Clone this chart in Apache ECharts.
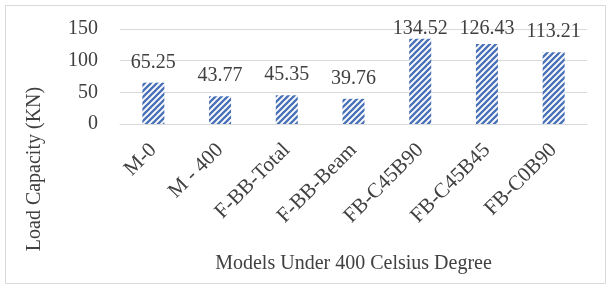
<head> </head>

<body style="margin: 0">
  <div id="main" style="width: 611px; height: 292px"></div>
  <script src="https://cdn.jsdelivr.net/npm/echarts@6.0.0/dist/echarts.min.js"></script>
  <script>
    // data
    var categories = ["M-0", "M - 400", "F-BB-Total", "F-BB-Beam", "FB-C45B90", "FB-C45B45", "FB-C0B90"];
    var loadValues = [65.25, 43.77, 45.35, 39.76, 134.52, 126.43, 113.21];
    var yTicks = [0, 50, 100, 150];

    var font = "Liberation Serif";

    // striped fill like the original
    var pat = document.createElement("canvas");
    pat.width = 6;
    pat.height = 6;
    var ctx = pat.getContext("2d");
    ctx.fillStyle = "#ffffff";
    ctx.fillRect(0, 0, 6, 6);
    ctx.strokeStyle = "#4a72b8";
    ctx.lineWidth = 2.3;
    ctx.beginPath();
    ctx.moveTo(-1, 7); ctx.lineTo(7, -1);
    ctx.moveTo(-1, 1); ctx.lineTo(1, -1);
    ctx.moveTo(5, 7); ctx.lineTo(7, 5);
    ctx.stroke();

    var myChart = echarts.init(document.getElementById("main"));
    var option = {
      backgroundColor: "#ffffff",
      animation: false,
      graphic: [
        {
          type: "rect",
          shape: { x: 5.5, y: 5.5, width: 600, height: 278 },
          style: { fill: "none", stroke: "#d9d9d9", lineWidth: 1 },
        },
        {
          type: "text",
          x: 35,
          y: 169,
          rotation: Math.PI / 2,
          style: {
            text: "Load Capacity (KN)",
            font: "20px " + font,
            fill: "#404040",
            align: "center",
            verticalAlign: "middle",
          },
        },
      ],
      grid: { left: 120, right: 24, top: 29, bottom: 168 },
      xAxis: {
        type: "category",
        data: categories,
        name: "Models Under 400 Celsius Degree",
        nameLocation: "middle",
        nameGap: 124,
        nameTextStyle: { fontFamily: font, fontSize: 20, color: "#404040" },
        axisLine: { show: true, lineStyle: { color: "#d9d9d9" } },
        axisTick: { show: false },
        axisLabel: {
          rotate: 45,
          interval: 0,
          margin: 23,
          fontFamily: font,
          fontSize: 21,
          color: "#404040",
        },
      },
      yAxis: {
        type: "value",
        min: yTicks[0],
        max: yTicks[yTicks.length - 1],
        interval: 50,
        axisLabel: { fontFamily: font, fontSize: 20, color: "#404040", margin: 22 },
        splitLine: { lineStyle: { color: "#d9d9d9" } },
      },
      series: [
        {
          type: "bar",
          data: loadValues,
          barWidth: 22,
          itemStyle: { color: { image: pat, repeat: "repeat" } },
          label: {
            show: true,
            position: "top",
            distance: 5,
            fontFamily: font,
            fontSize: 20,
            color: "#404040",
          },
          // keep the tall bars' labels inside the chart, like the original
          labelLayout: function (p) {
            var top = p.labelRect.y;
            return top < 13 ? { dy: 13 - top } : {};
          },
        },
      ],
    };
    myChart.setOption(option);
  </script>
</body>
